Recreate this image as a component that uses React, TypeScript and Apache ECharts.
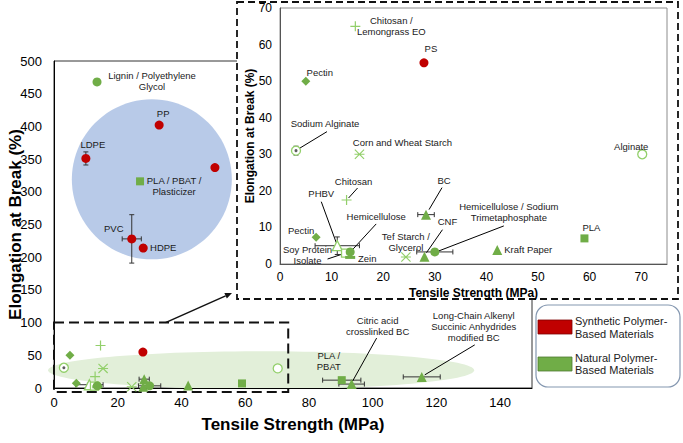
import React, { useEffect, useRef } from 'react';
import * as echarts from 'echarts';

const FONT = '"Liberation Sans", Arial, Helvetica, sans-serif';

// ---------- data ----------
// Synthetic polymer-based materials
const synthIds = ['ldpe', 'pp', 'synth3', 'pvc', 'hdpe', 'ps'];
const synthLabels = ['LDPE', 'PP', '', 'PVC', 'HDPE', 'PS'];
const synthTensile = [10, 33, 50.5, 24.4, 28, 27.9];
const synthElong = [351, 402, 337, 228, 214, 55];

// Natural polymer-based materials
const natIds = [
  'lignin', 'plaPbatPlast', 'plaPbat', 'citricBC', 'asaBC', 'chitosanLem', 'pectinA', 'sodAlg',
  'cornWheat', 'alginate', 'chitosan', 'bc', 'pectinB', 'phbv', 'hemi', 'soy', 'zein', 'tef',
  'cnf', 'hemiSTMP', 'kraft', 'pla',
];
const natLabels = [
  'Lignin / Polyethylene\nGlycol', 'PLA / PBAT /\nPlasticizer', 'PLA /\nPBAT', 'Citric acid\ncrosslinked BC',
  'Long-Chain Alkenyl\nSuccinic Anhydrides\nmodified BC', 'Chitosan /\nLemongrass EO', 'Pectin', 'Sodium Alginate',
  'Corn and Wheat Starch', 'Alginate', 'Chitosan', 'BC', 'Pectin', 'PHBV', 'Hemicellulose', 'Soy Protein\nIsolate',
  'Zein', 'Tef Starch /\nGlycerol', 'CNF', 'Hemicellulose / Sodium\nTrimetaphosphate', 'Kraft Paper', 'PLA',
];
const natTensile = [13.5, 27, 90.3, 93.4, 115.4, 14.6, 5, 3.1, 15.4, 70.2, 12.9, 28.3, 7, 11.1, 13.6, 12.7, 13.6, 24.4, 28, 30, 42.1, 59];
const natElong = [468, 316, 12, 6, 17, 65, 50, 31, 30, 30, 17.5, 13.5, 7.3, 5, 3.3, 3, 1.8, 1.9, 2, 3.3, 3.8, 7];

// Error bars (± tensile, ± elongation)
const errIds = ['ldpe', 'pvc', 'hdpe', 'plaPbat', 'citricBC', 'asaBC', 'bc', 'hemiSTMP', 'phbv', 'sodAlg'];
const errTensile = [0, 3, 0, 6, 4, 5.8, 1.6, 3.5, 4.3, 0];
const errElong = [10, 37, 5, 0, 0, 0, 0, 0, 2.4, 1.2];

// Axes
const mainXRange = [0, 150];
const mainXStep = 20;
const mainXLastLabel = 140;
const mainYRange = [0, 500];
const mainYStep = 50;
const insetXRange = [0, 75];
const insetXStep = 10;
const insetXLastLabel = 70;
const insetYRange = [0, 70];
const insetYStep = 10;

// ---------- styles ----------
const RED = '#c00000';
const GREEN = '#70ad47';
const LIGHT = '#92cf6a';
const PLUS = 'path://M4.4,0h1.2v4.4h4.4v1.2h-4.4v4.4h-1.2v-4.4h-4.4v-1.2h4.4z';
const STAR = 'path://M0,0.8L0.8,0L10,9.2L9.2,10Z M9.2,0L10,0.8L0.8,10L0,9.2Z M0,4.5h10v1h-10z';

const natKind: Record<string, string> = {
  lignin: 'circle', plaPbatPlast: 'square', plaPbat: 'square', citricBC: 'triangle', asaBC: 'triangle',
  chitosanLem: 'plus', pectinA: 'diamond', sodAlg: 'dotRing', cornWheat: 'star', alginate: 'ring',
  chitosan: 'plus', bc: 'triangle', pectinB: 'diamond', phbv: 'hollowTri', hemi: 'circle', soy: 'hollowSquare',
  zein: 'bar', tef: 'star', cnf: 'triangle', hemiSTMP: 'circle', kraft: 'triangle', pla: 'square',
};

const markerStyles: Record<string, any> = {
  ring: { symbol: 'circle', size: 9, fill: '#fff', stroke: LIGHT },
  dotRing: { symbol: 'circle', size: 9, fill: '#fff', stroke: LIGHT },
  hollowTri: { symbol: 'triangle', size: 10, fill: '#fff', stroke: LIGHT },
  hollowSquare: { symbol: 'rect', size: 8, fill: '#fff', stroke: LIGHT },
  plus: { symbol: PLUS, size: 10, fill: LIGHT },
  star: { symbol: STAR, size: 10, fill: LIGHT },
  bar: { symbol: 'rect', size: [10, 3], fill: GREEN },
  diamond: { symbol: 'diamond', size: 9, fill: GREEN },
  square: { symbol: 'rect', size: 8, fill: GREEN },
  triangle: { symbol: 'triangle', size: 10, fill: GREEN },
  circle: { symbol: 'circle', size: 9, fill: GREEN },
  synth: { symbol: 'circle', size: 9, fill: RED },
};
const kindOrder = Object.keys(markerStyles);

// label offsets (px from marker centre)
const mainLabelOffset: Record<string, number[]> = {
  lignin: [55, -1], pp: [4, -12], ldpe: [7, -14], plaPbatPlast: [34, 5], pvc: [-18, -10], hdpe: [20, -1],
  plaPbat: [-13, -19], citricBC: [26, -58], asaBC: [52, -50],
};
const insetLabelOffset: Record<string, number[]> = {
  chitosanLem: [36, 0], ps: [7, -14], pectinA: [14, -9], sodAlg: [29, -27], cornWheat: [43, -12],
  alginate: [-11, -8], chitosan: [7, -19], phbv: [-16, -52], bc: [18, -34], pectinB: [-15, -7],
  hemi: [26, -35], soy: [-38, 2], zein: [17, 1], tef: [0, -15], cnf: [23, -35], hemiSTMP: [74, -40],
  kraft: [31, -1], pla: [7, -11],
};
// leader lines: [from offset, to offset] in px from marker centre
const mainLeaders: Record<string, number[][]> = {
  citricBC: [[1, -3], [25, -46]],
  asaBC: [[3, -2], [53, -32]],
};
const insetLeaders: Record<string, number[][]> = {
  sodAlg: [[3, -2], [31, -19]],
  chitosan: [[2, -2], [11, -12]],
  phbv: [[-1, -3], [-16, -44]],
  bc: [[3, -5], [16, -27]],
  hemi: [[3, -3], [26, -28]],
  soy: [[-3, 1], [-18, 6]],
  cnf: [[2, -4], [18, -27]],
  hemiSTMP: [[4, -1], [69, -26]],
};

// decorations (data coords of main chart)
const blobCenter = [30.7, 319];
const ellipseCenter = [65, 27];
const zoomBoxX = [0, 73.5];
const zoomBoxY = [-6, 100];
const arrowStart = [35, 100];

type Pt = { id: string; label: string; x: number; y: number; kind: string };
const points: Pt[] = [
  ...synthIds.map((id, i) => ({ id, label: synthLabels[i], x: synthTensile[i], y: synthElong[i], kind: 'synth' })),
  ...natIds.map((id, i) => ({ id, label: natLabels[i], x: natTensile[i], y: natElong[i], kind: natKind[id] })),
];
const byId: Record<string, Pt> = {};
points.forEach((p) => (byId[p.id] = p));

const inInset = (p: Pt) => p.x <= insetXRange[1] && p.y <= insetYRange[1];

const labelBase = {
  show: true,
  position: 'inside',
  color: '#1a1a1a',
  fontSize: 9.5,
  lineHeight: 11,
  fontFamily: FONT,
  align: 'center',
  verticalAlign: 'middle',
};

function scatterSeries(grid: number) {
  const offsets = grid === 0 ? mainLabelOffset : insetLabelOffset;
  const out: any[] = [];
  for (const kind of kindOrder) {
    const st = markerStyles[kind];
    const pts = points.filter((p) => p.kind === kind && (grid === 0 || inInset(p)));
    if (!pts.length) continue;
    out.push({
      type: 'scatter',
      xAxisIndex: grid,
      yAxisIndex: grid,
      z: grid ? 5 : 2,
      silent: true,
      symbol: st.symbol,
      symbolSize: st.size,
      itemStyle: {
        color: st.fill,
        borderColor: st.stroke || st.fill,
        borderWidth: st.stroke ? 1.3 : 0,
        opacity: 1,
      },
      data: pts.map((p) => {
        const off = offsets[p.id];
        return {
          value: [p.x, p.y],
          label: off ? { ...labelBase, formatter: p.label, offset: off } : { show: false },
        };
      }),
    });
    if (kind === 'dotRing') {
      out.push({
        type: 'scatter', xAxisIndex: grid, yAxisIndex: grid, z: grid ? 5 : 2, silent: true,
        symbol: 'circle', symbolSize: 3, itemStyle: { color: '#333' },
        data: pts.map((p) => [p.x, p.y]),
      });
    }
  }
  return out;
}

function errorSeries(grid: number) {
  const data = errIds
    .map((id, i) => ({ p: byId[id], ex: errTensile[i], ey: errElong[i] }))
    .filter((d) => grid === 0 || inInset(d.p))
    .map((d) => [d.p.x, d.p.y, d.ex, d.ey]);
  return {
    type: 'custom',
    xAxisIndex: grid,
    yAxisIndex: grid,
    z: grid ? 5 : 2,
    silent: true,
    encode: { x: 0, y: 1 },
    data,
    renderItem: (_params: any, api: any) => {
      const x = api.value(0), y = api.value(1), ex = api.value(2), ey = api.value(3);
      const children: any[] = [];
      const st = { stroke: '#333', lineWidth: 1 };
      const cap = 2.5;
      if (ex > 0) {
        const l = api.coord([x - ex, y]);
        const r = api.coord([x + ex, y]);
        children.push({ type: 'line', shape: { x1: l[0], y1: l[1], x2: r[0], y2: r[1] }, style: st });
        children.push({ type: 'line', shape: { x1: l[0], y1: l[1] - cap, x2: l[0], y2: l[1] + cap }, style: st });
        children.push({ type: 'line', shape: { x1: r[0], y1: r[1] - cap, x2: r[0], y2: r[1] + cap }, style: st });
      }
      if (ey > 0) {
        const t = api.coord([x, y + ey]);
        const b = api.coord([x, y - ey]);
        children.push({ type: 'line', shape: { x1: t[0], y1: t[1], x2: b[0], y2: b[1] }, style: st });
        children.push({ type: 'line', shape: { x1: t[0] - cap, y1: t[1], x2: t[0] + cap, y2: t[1] }, style: st });
        children.push({ type: 'line', shape: { x1: b[0] - cap, y1: b[1], x2: b[0] + cap, y2: b[1] }, style: st });
      }
      return { type: 'group', children };
    },
  };
}

function leaderSeries(grid: number) {
  const table = grid === 0 ? mainLeaders : insetLeaders;
  const ids = Object.keys(table);
  return {
    type: 'custom',
    xAxisIndex: grid,
    yAxisIndex: grid,
    z: grid ? 5 : 2,
    silent: true,
    encode: { x: 0, y: 1 },
    data: ids.map((id, i) => [byId[id].x, byId[id].y, i]),
    renderItem: (_params: any, api: any) => {
      const p = api.coord([api.value(0), api.value(1)]);
      const [a, b] = table[ids[api.value(2)]];
      return {
        type: 'line',
        shape: { x1: p[0] + a[0], y1: p[1] + a[1], x2: p[0] + b[0], y2: p[1] + b[1] },
        style: { stroke: '#000', lineWidth: 1 },
      };
    },
  };
}

function axis(gridIndex: number, range: number[], step: number, last: number | null, main: boolean, isX: boolean, name: string) {
  return {
    gridIndex,
    type: 'value',
    min: range[0],
    max: range[1],
    interval: step,
    z: main ? 1.2 : 4,
    axisLine: { show: true, onZero: false, lineStyle: { color: main ? '#000' : '#555', width: 1 } },
    axisTick: { show: false },
    splitLine: { show: false },
    axisLabel: {
      fontSize: main ? 13 : 12,
      color: '#000',
      fontFamily: FONT,
      margin: isX ? (main ? 8 : 7) : main ? 12 : 8,
      formatter: (v: number) => (last !== null && v > last ? '' : String(v)),
    },
    name,
    nameLocation: 'middle',
    nameMoveOverlap: false,
    nameGap: isX ? (main ? 28 : 23) : main ? 30 : 24,
    nameTextStyle: { fontSize: main ? 17 : 12, fontWeight: 'bold', color: '#000', fontFamily: FONT },
  };
}

function buildOption() {
  return {
    animation: false,
    backgroundColor: '#fff',
    grid: [
      { left: 54, top: 61, right: 151, bottom: 55, show: true, borderColor: '#333', borderWidth: 1, z: 0, outerBoundsMode: 'none', containLabel: false },
      { left: 280, top: 8, right: 16, bottom: 179, show: true, borderColor: '#8c8c8c', borderWidth: 1, z: 4, outerBoundsMode: 'none', containLabel: false },
    ],
    xAxis: [
      axis(0, mainXRange, mainXStep, mainXLastLabel, true, true, 'Tensile Strength (MPa)'),
      axis(1, insetXRange, insetXStep, insetXLastLabel, false, true, 'Tensile Strength (MPa)'),
    ],
    yAxis: [
      axis(0, mainYRange, mainYStep, null, true, false, 'Elongation at Break (%)'),
      axis(1, insetYRange, insetYStep, null, false, false, 'Elongation at Break (%)'),
    ],
    series: [
      errorSeries(0), leaderSeries(0), ...scatterSeries(0),
      errorSeries(1), leaderSeries(1), ...scatterSeries(1),
    ],
  };
}

function buildGraphic(chart: any) {
  const toPx = (p: number[]) => chart.convertToPixel({ xAxisIndex: 0, yAxisIndex: 0 }, p) as number[];
  const c = toPx(blobCenter);
  const e = toPx(ellipseCenter);
  const tl = toPx([zoomBoxX[0], zoomBoxY[1]]);
  const br = toPx([zoomBoxX[1], zoomBoxY[0]]);
  const a0 = toPx(arrowStart);
  const inset = { x: 237, y: 2, w: 441, h: 297 };
  const a1 = [232, 293];
  const dx = a1[0] - a0[0], dy = a1[1] - a0[1];
  const len = Math.hypot(dx, dy);
  const ux = dx / len, uy = dy / len;
  const hl = 7, hw = 3;
  const bx = a1[0] - ux * hl, by = a1[1] - uy * hl;
  const textStyle = { fontSize: 11, fontFamily: FONT, fill: '#222', lineHeight: 12.5, verticalAlign: 'middle' };
  return [
    { type: 'circle', z: 1, silent: true, shape: { cx: c[0], cy: c[1], r: 80 }, style: { fill: '#b4c7e7', opacity: 0.95 } },
    { type: 'ellipse', z: 1, silent: true, shape: { cx: e[0], cy: e[1], rx: 213, ry: 19 }, style: { fill: '#e2efd9' } },
    {
      type: 'rect', z: 1.5, silent: true,
      shape: { x: tl[0], y: tl[1], width: br[0] - tl[0], height: br[1] - tl[1] },
      style: { fill: 'none', stroke: '#111', lineWidth: 2, lineDash: [10, 5] },
    },
    {
      type: 'line', z: 1.5, silent: true,
      shape: { x1: a0[0], y1: a0[1], x2: bx, y2: by },
      style: { stroke: '#111', lineWidth: 1.5 },
    },
    {
      type: 'polygon', z: 1.5, silent: true,
      shape: { points: [[a1[0], a1[1]], [bx - uy * hw, by + ux * hw], [bx + uy * hw, by - ux * hw]] },
      style: { fill: '#111' },
    },
    {
      type: 'rect', z: 3, silent: true,
      shape: { x: inset.x, y: inset.y, width: inset.w, height: inset.h },
      style: { fill: '#fff', stroke: '#111', lineWidth: 1.8, lineDash: [7, 4] },
    },
    {
      type: 'group', z: 3, silent: true,
      children: [
        { type: 'rect', z: 3, shape: { x: 536, y: 305, width: 144, height: 82, r: 12 }, style: { fill: '#fff', stroke: '#8497b0', lineWidth: 1.2 } },
        { type: 'rect', z: 3, shape: { x: 538, y: 320, width: 34, height: 14 }, style: { fill: RED, stroke: '#7f0000', lineWidth: 0.8 } },
        { type: 'rect', z: 3, shape: { x: 538, y: 357, width: 34, height: 14 }, style: { fill: GREEN, stroke: '#4e7a31', lineWidth: 0.8 } },
        { type: 'text', z: 3, x: 575, y: 327.5, style: { ...textStyle, text: 'Synthetic Polymer-\nBased Materials' } },
        { type: 'text', z: 3, x: 575, y: 364, style: { ...textStyle, text: 'Natural Polymer-\nBased Materials' } },
      ],
    },
  ];
}

export default function App() {
  const ref = useRef<HTMLDivElement>(null);
  useEffect(() => {
    const chart = echarts.init(ref.current!, null, { renderer: 'svg' });
    chart.setOption(buildOption() as any);
    chart.setOption({ graphic: buildGraphic(chart) } as any);
    return () => chart.dispose();
  }, []);
  return (
    <div
      ref={ref}
      style={{ position: 'fixed', left: 0, top: 0, width: 683, height: 443, background: '#fff' }}
    />
  );
}
